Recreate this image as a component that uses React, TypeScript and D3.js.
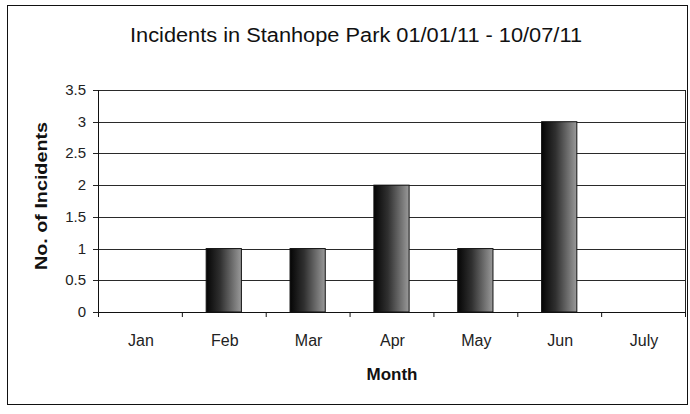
import React from "react";
import * as d3 from "d3";

const months = ["Jan", "Feb", "Mar", "Apr", "May", "Jun", "July"];
const incidents = [0, 1, 1, 2, 1, 3, 0];
const yTicks = [0, 0.5, 1, 1.5, 2, 2.5, 3, 3.5];
const yTickLabels = ["0", "0.5", "1", "1.5", "2", "2.5", "3", "3.5"];
const title = "Incidents in Stanhope Park 01/01/11 - 10/07/11";
const xTitle = "Month";
const yTitle = "No. of Incidents";

export default function App() {
  const W = 690, H = 414;
  const left = 98, right = 685, top = 90, bottom = 312;
  const x = d3.scaleBand().domain(months).range([left, right]).paddingInner(0).paddingOuter(0);
  const y = d3.scaleLinear().domain([0, 3.5]).range([bottom, top]);
  const bw = x.bandwidth() * 0.42;
  const font = "'Liberation Sans', Arial, sans-serif";
  const boundaries = months.map((m) => x(m)!).concat([right]);
  return (
    <svg width={W} height={H} style={{ position: "absolute", left: 0, top: 0, display: "block", background: "#fff" }}>
      <defs>
        <linearGradient id="barg" x1="0" x2="1" y1="0" y2="0">
          <stop offset="0" stopColor="#050505" />
          <stop offset="0.4" stopColor="#303030" />
          <stop offset="1" stopColor="#9a9a9a" />
        </linearGradient>
      </defs>
      <rect x={7.5} y={5.5} width={680} height={399} fill="#fff" stroke="#111" strokeWidth={1} />
      <text x={356} y={42} textAnchor="middle" fontFamily={font} fontSize={20} fill="#111"
        textLength={452} lengthAdjust="spacingAndGlyphs">{title}</text>
      {yTicks.map((t) => (
        <g key={t}>
          <line x1={left} x2={right} y1={Math.round(y(t)) + 0.5} y2={Math.round(y(t)) + 0.5} stroke="#2a2a2a" strokeWidth={1} />
          <line x1={left - 5} x2={left} y1={Math.round(y(t)) + 0.5} y2={Math.round(y(t)) + 0.5} stroke="#222" />
        </g>
      ))}
      <line x1={right + 0.5} x2={right + 0.5} y1={top} y2={bottom} stroke="#222" />
      {yTicks.map((t, i) => (
        <text key={"l" + t} x={left - 12} y={y(t) + 5} textAnchor="end" fontFamily={font} fontSize={15} fill="#222">{yTickLabels[i]}</text>
      ))}
      {months.map((m, i) => (
        <rect key={m} x={x(m)! + (x.bandwidth() - bw) / 2} y={y(incidents[i])} width={bw}
          height={bottom - y(incidents[i])} fill="url(#barg)" stroke={incidents[i] > 0 ? "#111" : "none"} strokeWidth={1} />
      ))}
      <line x1={left + 0.5} x2={left + 0.5} y1={top} y2={bottom + 1} stroke="#111" />
      <line x1={left} x2={right} y1={bottom + 0.5} y2={bottom + 0.5} stroke="#111" />
      {boundaries.map((b, i) => (
        <line key={"xt" + i} x1={b + 0.5} x2={b + 0.5} y1={bottom} y2={bottom + 5} stroke="#111" />
      ))}
      {months.map((m) => (
        <text key={"xl" + m} x={x(m)! + x.bandwidth() / 2 + 1} y={346} textAnchor="middle" fontFamily={font} fontSize={16} fill="#222">{m}</text>
      ))}
      <text x={392} y={380} textAnchor="middle" fontFamily={font} fontSize={17} fontWeight="bold" fill="#111">{xTitle}</text>
      <text transform={`translate(47,196) rotate(-90)`} textAnchor="middle" fontFamily={font} fontSize={17} fontWeight="bold" fill="#111"
        textLength={148} lengthAdjust="spacingAndGlyphs">{yTitle}</text>
    </svg>
  );
}
